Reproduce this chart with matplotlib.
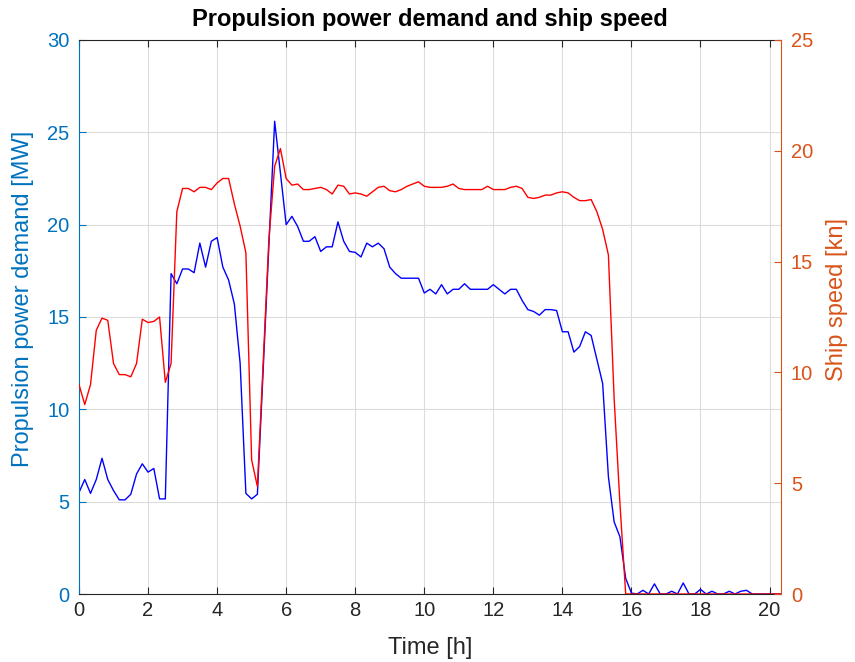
import numpy as np
import matplotlib
matplotlib.use("Agg")
import matplotlib.pyplot as plt

plt.rcParams["font.family"] = ["Liberation Sans", "DejaVu Sans"]

# Propulsion power demand [MW], sampled every 10 min
power = [
    5.5, 6.2, 5.45, 6.2, 7.35, 6.2, 5.6, 5.1, 5.1, 5.4,
    6.5, 7.05, 6.6, 6.8, 5.15, 5.15, 17.35, 16.8, 17.6, 17.6,
    17.4, 19.0, 17.7, 19.1, 19.3, 17.7, 17.0, 15.7, 12.5, 5.45,
    5.15, 5.4, 12.1, 18.9, 25.6, 22.8, 20.0, 20.45, 19.9, 19.1,
    19.1, 19.35, 18.55, 18.8, 18.8, 20.15, 19.1, 18.55, 18.5, 18.25,
    19.0, 18.8, 19.0, 18.7, 17.7, 17.35, 17.1, 17.1, 17.1, 17.1,
    16.3, 16.5, 16.25, 16.75, 16.25, 16.5, 16.5, 16.8, 16.5, 16.5,
    16.5, 16.5, 16.75, 16.5, 16.25, 16.5, 16.5, 15.9, 15.4, 15.3,
    15.1, 15.4, 15.4, 15.35, 14.2, 14.2, 13.1, 13.4, 14.2, 14.0,
    12.7, 11.4, 6.35, 3.9, 3.1, 0.85, 0.05, 0.0, 0.2, 0.0,
    0.55, 0.0, 0.0, 0.15, 0.0, 0.6, 0.0, 0.0, 0.25, 0.0,
    0.15, 0.0, 0.0, 0.15, 0.0, 0.15, 0.2, 0.0, 0.0, 0.0,
    0.0, 0.0, 0.0,
]

# Ship speed [kn]
speed = [
    9.45, 8.55, 9.45, 11.9, 12.45, 12.35, 10.4, 9.9, 9.9, 9.8,
    10.4, 12.4, 12.25, 12.3, 12.5, 9.55, 10.4, 17.25, 18.3, 18.3,
    18.15, 18.35, 18.35, 18.25, 18.55, 18.75, 18.75, 17.6, 16.6, 15.4,
    6.05, 4.85, 10.4, 16.0, 19.3, 20.1, 18.75, 18.45, 18.5, 18.25,
    18.25, 18.3, 18.35, 18.25, 18.05, 18.45, 18.4, 18.05, 18.1, 18.05,
    17.95, 18.15, 18.35, 18.4, 18.2, 18.15, 18.25, 18.4, 18.5, 18.6,
    18.4, 18.35, 18.35, 18.35, 18.4, 18.5, 18.3, 18.25, 18.25, 18.25,
    18.25, 18.4, 18.25, 18.25, 18.25, 18.35, 18.4, 18.3, 17.9, 17.85,
    17.9, 18.0, 18.0, 18.1, 18.15, 18.1, 17.9, 17.75, 17.75, 17.8,
    17.25, 16.45, 15.3, 8.8, 4.1, 0.0, 0.0, 0.0, 0.0, 0.0,
    0.0, 0.0, 0.0, 0.0, 0.0, 0.0, 0.0, 0.0, 0.0, 0.0,
    0.0, 0.0, 0.0, 0.0, 0.0, 0.0, 0.0, 0.0, 0.0, 0.0,
    0.0, 0.0, 0.0,
]

time_h = np.arange(len(power)) / 6.0

left_col = "#0072BD"
right_col = "#D95319"
dark = "#262626"

fig = plt.figure(figsize=(8.55, 6.62), dpi=100)
ax = fig.add_axes([0.0924, 0.1027, 0.8211, 0.8369])
ax2 = ax.twinx()

ax.plot(time_h, power, color="blue", lw=1.0)
ax2.plot(time_h, speed, color="red", lw=1.0)

ax.set_xlim(0, time_h[-1])
ax.set_ylim(0, 30)
ax2.set_ylim(0, 25)
ax.set_xticks(np.arange(0, 21, 2))
ax.set_yticks(np.arange(0, 31, 5))
ax2.set_yticks(np.arange(0, 26, 5))

ax.grid(True, color="#dcdcdc", lw=0.8)
ax.set_axisbelow(True)

ax.tick_params(axis="x", direction="in", top=True, length=5, colors=dark,
               labelsize=14.5, pad=5)
ax.tick_params(axis="y", direction="in", length=5, colors=left_col,
               labelsize=14.5, pad=7)
ax2.tick_params(axis="y", direction="in", length=5, colors=right_col,
                labelsize=14.5, pad=7)

for s in ["top", "bottom"]:
    ax.spines[s].set_color(dark)
ax.spines["left"].set_color(left_col)
ax.spines["right"].set_visible(False)
for s in ["top", "bottom", "left"]:
    ax2.spines[s].set_visible(False)
ax2.spines["right"].set_color(right_col)

ax.set_xlabel("Time [h]", fontsize=17, color=dark, labelpad=12)
ax.set_ylabel("Propulsion power demand [MW]", fontsize=17, color=left_col)
ax2.set_ylabel("Ship speed [kn]", fontsize=17, color=right_col)
ax.yaxis.set_label_coords(-0.064, 0.532)
ax2.yaxis.set_label_coords(1.064, 0.532)
ax.set_title("Propulsion power demand and ship speed", fontsize=17,
             fontweight="bold", color="black", pad=10)

fig.savefig("out.png", dpi=100)
